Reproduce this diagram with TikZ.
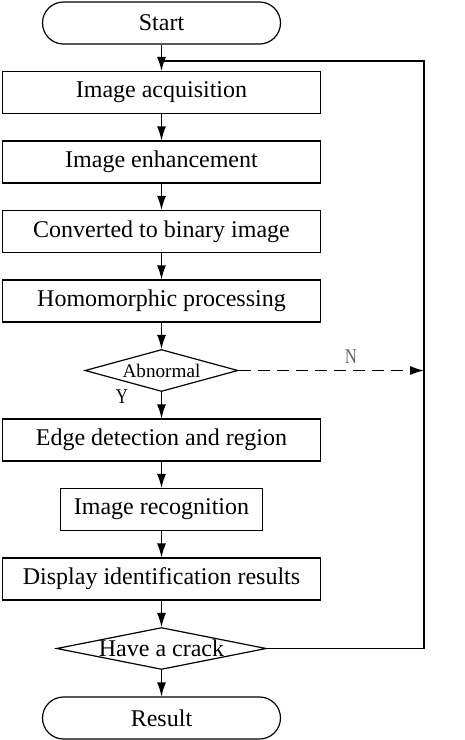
\documentclass[tikz,border=0pt]{standalone}
\usepackage{fontspec}
\setmainfont{Liberation Serif}
\usetikzlibrary{shapes, arrows.meta}
\tikzstyle{terminal} =
        [
                rectangle,
                draw,
                rounded corners = 10.5pt,
                minimum width = 119pt,
                minimum height = 21pt,
                font = \fontsize{12}{14}\selectfont
        ]
\tikzstyle{block} =
        [
                rectangle,
                draw,
                minimum width = 159pt,
                minimum height = 21pt,
                font = \fontsize{12}{14}\selectfont
        ]
\tikzstyle{decision} =
        [
                diamond,
                draw,
                inner sep = 0pt,
                shape aspect = 5,
                font = \fontsize{12}{14}\selectfont
        ]
\tikzstyle{line} =
        [
                draw,
                -{Latex[length = 7pt, width = 4.5pt]}
        ]
\tikzstyle{answer} =
        [
                font = \fontsize{10.5}{12}\selectfont,
                inner sep = 0pt
        ]
\begin{document}
\begin{tikzpicture}[node distance = 34.75pt, line width = 0.6pt]
        \useasboundingbox (0pt, 0pt) rectangle (232.5pt, -370pt);
        \node [terminal] at (80.75pt, -11.5pt) (start) {Start};
        \node [block, below of = start] (acquire) {Image acquisition};
        \node [block, below of = acquire] (enhance) {Image enhancement};
        \node [block, below of = enhance] (binary) {Converted to binary image};
        \node [block, below of = binary] (homo) {Homomorphic processing};
        \node [decision, below of = homo, minimum width = 76.5pt, minimum height = 21pt,
               font = \fontsize{9.6}{11}\selectfont] (abnormal) {Abnormal};
        \node [block, below of = abnormal] (edge) {Edge detection and region};
        \node [block, below of = edge, minimum width = 101pt] (recog) {Image recognition};
        \node [block, below of = recog] (display) {Display identification results};
        \node [decision, below of = display, minimum width = 104pt, minimum height = 20.5pt] (crack) {Have a crack};
        \node [terminal, below of = crack] (result) {Result};

        \coordinate (corner) at (212pt, -30.5pt);
        \coordinate (join) at (start.south |- corner);

        \path [line] (start) -- (acquire);
        \path [line] (acquire) -- (enhance);
        \path [line] (enhance) -- (binary);
        \path [line] (binary) -- (homo);
        \path [line] (homo) -- (abnormal);
        \path [line] (abnormal) -- (edge);
        \path [line, dash pattern = on 6pt off 3.5pt] (abnormal) -- (abnormal -| corner);
        \path [line] (edge) -- (recog);
        \path [line] (recog) -- (display);
        \path [line] (display) -- (crack);
        \path [line] (crack) -- (result);
        \draw (crack.east) -| (corner) -- (join);

        \node [answer, text = black!60, xscale = 0.8] at (175.5pt, -178.5pt) (no) {N};
        \node [answer, xscale = 0.8] at (61pt, -198.5pt) (yes) {Y};
\end{tikzpicture}
\end{document}
